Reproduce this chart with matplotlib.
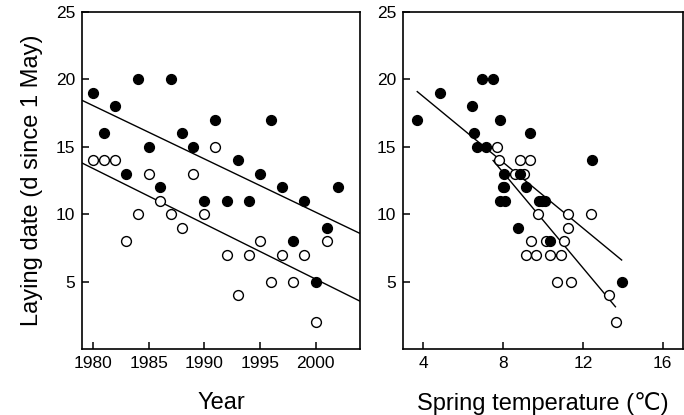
import matplotlib
matplotlib.use("Agg")
import matplotlib.pyplot as plt
import numpy as np

plt.rcParams['font.family'] = ['Liberation Sans', 'DejaVu Sans']

# left panel: laying date by year
years_filled = [1980, 1981, 1982, 1983, 1984, 1985, 1986, 1987, 1988, 1989, 1990, 1991,
                1992, 1993, 1994, 1995, 1996, 1997, 1998, 1999, 2000, 2001, 2002]
date_filled = [19, 16, 18, 13, 20, 15, 12, 20, 16, 15, 11, 17,
               11, 14, 11, 13, 17, 12, 8, 11, 5, 9, 12]
years_open = [1980, 1981, 1982, 1983, 1984, 1985, 1986, 1987, 1988, 1989, 1990,
              1991, 1992, 1993, 1994, 1995, 1996, 1997, 1998, 1999, 2000, 2001]
date_open = [14, 14, 14, 8, 10, 13, 11, 10, 9, 13, 10,
             15, 7, 4, 7, 8, 5, 7, 5, 7, 2, 8]

# regression lines (value at 1979, slope per year)
yr_line_x = [1979, 2004]
yr_fit_filled = (18.45, -0.395)
yr_fit_open = (13.8, -0.41)

# right panel: laying date by spring temperature
temp_filled = [3.71, 4.84, 6.95, 7.49, 6.42, 7.83, 9.34, 6.52, 6.68, 7.12, 8.03, 8.83,
               7.99, 9.15, 12.44, 7.86, 8.11, 9.78, 10.12, 8.73, 10.34, 13.95, 8.05]
tdate_filled = [17, 19, 20, 20, 18, 17, 16, 16, 15, 15, 13, 13,
                12, 12, 14, 11, 11, 11, 11, 9, 8, 5, 12]
temp_open = [7.72, 7.78, 8.83, 9.34, 8.61, 9.07, 9.77, 11.25, 12.39, 11.25, 9.42,
             10.14, 11.05, 9.17, 9.65, 10.34, 10.91, 10.68, 11.38, 13.31, 13.65, 9.95]
tdate_open = [15, 14, 14, 14, 13, 13, 10, 10, 10, 9, 8,
              8, 8, 7, 7, 7, 7, 5, 5, 4, 2, 11]

# regression lines (x range, value at x=10, slope per degree)
t_line_filled_x = [3.70, 13.94]
t_fit_filled = (11.41, -1.22)
t_line_open_x = [7.5, 13.63]
t_fit_open = (9.56, -1.77)

fig = plt.figure(figsize=(6.84, 4.15), dpi=100)
ax1 = fig.add_axes([0.1199, 0.159, 0.4064, 0.812])
ax2 = fig.add_axes([0.5896, 0.159, 0.4085, 0.812])

ms = 50


def style(ax):
    for s in ax.spines.values():
        s.set_linewidth(1.2)
    ax.tick_params(direction='in', length=5, width=1.1, labelsize=12.5, pad=5)
    ax.set_ylim(0, 25)
    ax.set_yticks([5, 10, 15, 20, 25])


# left
x = np.array(yr_line_x)
ax1.plot(x, yr_fit_filled[0] + yr_fit_filled[1] * (x - 1979), color='black', lw=1)
ax1.plot(x, yr_fit_open[0] + yr_fit_open[1] * (x - 1979), color='black', lw=1)
ax1.scatter(years_open, date_open, s=ms, facecolors='white', edgecolors='black', linewidths=1, zorder=3)
ax1.scatter(years_filled, date_filled, s=ms, color='black', zorder=4)
ax1.set_xlim(1979, 2004)
ax1.set_xticks([1980, 1985, 1990, 1995, 2000])
style(ax1)
ax1.set_xlabel('Year', fontsize=17, labelpad=15)
ax1.set_ylabel('Laying date (d since 1 May)', fontsize=17, labelpad=9)

# right
xf = np.array(t_line_filled_x)
xo = np.array(t_line_open_x)
ax2.plot(xf, t_fit_filled[0] + t_fit_filled[1] * (xf - 10), color='black', lw=1)
ax2.plot(xo, t_fit_open[0] + t_fit_open[1] * (xo - 10), color='black', lw=1)
ax2.scatter(temp_open, tdate_open, s=ms, facecolors='white', edgecolors='black', linewidths=1, zorder=3)
ax2.scatter(temp_filled, tdate_filled, s=ms, color='black', zorder=4)
ax2.set_xlim(3, 17)
ax2.set_xticks([4, 8, 12, 16])
style(ax2)
ax2.set_xlabel('Spring temperature (\u2103)', fontsize=17, labelpad=15)

fig.savefig('out.png', dpi=100)
